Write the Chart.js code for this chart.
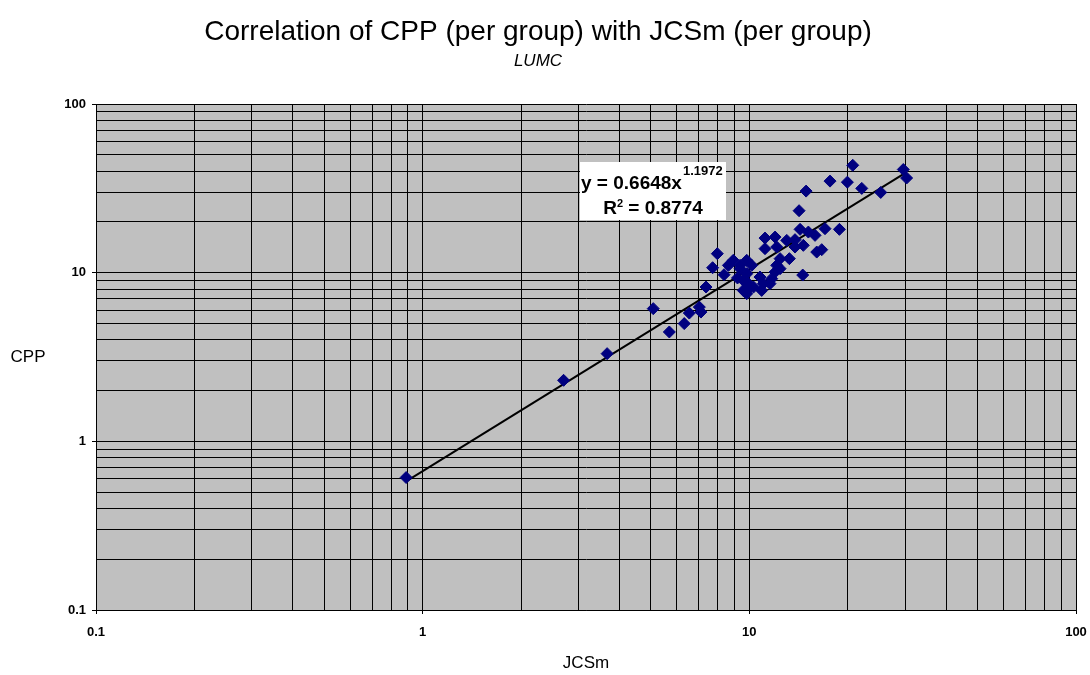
<!DOCTYPE html>
<html>
<head>
<meta charset="utf-8">
<script src="https://cdn.jsdelivr.net/npm/chart.js@4.4.1/dist/chart.umd.min.js"></script>
<style>
  html, body { margin: 0; padding: 0; background: #fff; }
  #wrap { width: 1090px; height: 675px; }
</style>
</head>
<body>
<div id="wrap"><canvas id="chart"></canvas></div>
<script>
// JCSm (x) y CPP (y) por grupo
const jcsm = [0.89, 2.70, 3.67, 5.08, 5.69, 6.32, 6.55, 7.03, 7.11, 7.37,
  7.72, 7.98, 8.37, 8.93, 8.63, 9.37, 9.82, 10.17, 9.58, 9.82,
  9.2, 9.82, 10.05, 9.58, 10.3, 10.78, 10.91, 11.04, 11.17, 11.17,
  11.99, 12.13, 12.42, 12.13, 11.99, 11.57, 13.02, 13.26, 13.8, 13.8,
  14.3, 14.63, 14.57, 14.2, 14.92, 15.16, 15.89, 16.08, 16.66, 17.05,
  17.66, 18.87, 19.96, 20.73, 22.09, 25.25, 29.6, 30.3, 12.42, 9.37,
  11.71, 9.82];
const cpp = [0.61, 2.30, 3.31, 6.12, 4.45, 4.99, 5.76, 6.25, 5.84, 8.22,
  10.7, 12.96, 9.73, 11.83, 11.05, 10.56, 11.83, 11.05, 9.00, 8.80,
  9.3, 7.51, 8.22, 7.85, 8.22, 9.42, 7.85, 8.61, 16.04, 13.88,
  16.26, 14.19, 12.11, 11.05, 10.08, 8.61, 15.54, 12.11, 14.19, 15.69,
  18.06, 14.52, 9.68, 23.3, 30.45, 17.41, 16.64, 13.25, 13.69, 18.23,
  34.9, 18.06, 34.4, 43.3, 31.6, 29.9, 40.9, 36.4, 10.56, 11.05,
  9.21, 9.86];

// Linea de tendencia (potencia) y su etiqueta
const trendA = 0.6648;
const trendB = 1.1972;
const trendR2 = "0.8774";

// Lineas de la grilla logaritmica y etiquetas de los ejes
const gridValues = [0.1, 0.2, 0.3, 0.4, 0.5, 0.6, 0.7, 0.8, 0.9,
  1, 2, 3, 4, 5, 6, 7, 8, 9,
  10, 20, 30, 40, 50, 60, 70, 80, 90, 100];
const tickLabels = { 0.1: "0.1", 1: "1", 10: "10", 100: "100" };

const fuente = 'Arial, "Liberation Sans", sans-serif';

const puntos = jcsm.map((x, i) => ({ x: x, y: cpp[i] }));
const xMin = Math.min(...jcsm);
const xMax = Math.max(...jcsm);
const tendencia = [
  { x: xMin, y: trendA * Math.pow(xMin, trendB) },
  { x: xMax, y: trendA * Math.pow(xMax, trendB) }
];

function esMayor(v) {
  return tickLabels[v] !== undefined;
}

function ejeLog(pos) {
  return {
    type: 'logarithmic',
    position: pos,
    min: 0.1,
    max: 100,
    afterBuildTicks: (scale) => {
      scale.ticks = gridValues.map(v => ({ value: v, major: esMayor(v) }));
    },
    afterFit: (scale) => {
      if (pos === 'left') scale.width = 96;
      else scale.height = 65;
      // el margen lo controla layout.padding
      scale.paddingLeft = 0;
      scale.paddingRight = 0;
      scale.paddingTop = 0;
      scale.paddingBottom = 0;
    },
    ticks: {
      autoSkip: false,
      maxRotation: 0,
      padding: pos === 'left' ? 6 : 11,
      color: '#000',
      font: { family: fuente, size: 13, weight: 'bold' },
      callback: (value) => tickLabels[value] || ''
    },
    grid: {
      color: '#000',
      lineWidth: 1,
      drawTicks: true,
      tickLength: 4,
      tickColor: (ctx) => (ctx.tick && esMayor(ctx.tick.value)) ? '#000' : 'rgba(0,0,0,0)'
    },
    border: { display: true, color: '#000', width: 1 },
    title: pos === 'left' ? { display: false } : {
      display: true,
      text: 'JCSm',
      color: '#000',
      font: { family: fuente, size: 17 },
      padding: { top: 0, bottom: 1 }
    }
  };
}

// Fondo gris del area de trazado, titulo del eje Y y etiqueta de la tendencia
const extras = {
  id: 'extras',
  beforeDraw(chart) {
    const { ctx, chartArea } = chart;
    ctx.save();
    ctx.fillStyle = '#fff';
    ctx.fillRect(0, 0, chart.width, chart.height);
    ctx.fillStyle = '#C0C0C0';
    ctx.fillRect(chartArea.left, chartArea.top, chartArea.right - chartArea.left, chartArea.bottom - chartArea.top);
    ctx.restore();
  },
  afterDraw(chart) {
    const { ctx, chartArea } = chart;
    ctx.save();
    ctx.fillStyle = '#000';
    ctx.font = '17px ' + fuente;
    ctx.textAlign = 'center';
    ctx.textBaseline = 'middle';
    ctx.fillText('CPP', 28, (chartArea.top + chartArea.bottom) / 2);

    // cuadro de la ecuacion
    ctx.fillStyle = '#fff';
    ctx.fillRect(580, 162, 146, 58);
    ctx.fillStyle = '#000';
    ctx.textAlign = 'left';
    ctx.textBaseline = 'alphabetic';
    ctx.font = 'bold 19px ' + fuente;
    const t1 = 'y = ' + trendA + 'x';
    ctx.fillText(t1, 581, 189);
    const w1 = ctx.measureText(t1).width;
    ctx.font = 'bold 13px ' + fuente;
    ctx.fillText(String(trendB), 581 + w1 + 1, 175);

    ctx.font = 'bold 19px ' + fuente;
    const wR = ctx.measureText('R').width;
    const t2 = ' = ' + trendR2;
    const w2 = ctx.measureText(t2).width;
    ctx.font = 'bold 11px ' + fuente;
    const wS = ctx.measureText('2').width;
    const x0 = 653 - (wR + wS + w2) / 2;
    ctx.font = 'bold 19px ' + fuente;
    ctx.fillText('R', x0, 214);
    ctx.fillText(t2, x0 + wR + wS, 214);
    ctx.font = 'bold 11px ' + fuente;
    ctx.fillText('2', x0 + wR, 207);
    ctx.restore();
  }
};

new Chart(document.getElementById('chart'), {
  type: 'scatter',
  data: {
    datasets: [
      {
        label: 'Tendencia',
        data: tendencia,
        showLine: true,
        borderColor: '#000',
        borderWidth: 2,
        pointRadius: 0,
        fill: false,
        order: 1
      },
      {
        label: 'CPP vs JCSm',
        data: puntos,
        pointStyle: 'rectRot',
        pointRadius: 6,
        backgroundColor: '#000080',
        borderColor: '#000080',
        borderWidth: 1,
        order: 0
      }
    ]
  },
  options: {
    responsive: true,
    maintainAspectRatio: false,
    animation: false,
    layout: { padding: { top: 0, right: 14, bottom: 0, left: 0 } },
    scales: {
      x: ejeLog('bottom'),
      y: ejeLog('left')
    },
    plugins: {
      legend: { display: false },
      tooltip: { enabled: false },
      title: {
        display: true,
        text: 'Correlation of CPP (per group) with JCSm (per group)',
        color: '#000',
        font: { family: fuente, size: 28, weight: 'normal' },
        padding: { top: 15, bottom: 0 }
      },
      subtitle: {
        display: true,
        text: 'LUMC',
        color: '#000',
        font: { family: fuente, size: 17, style: 'italic' },
        padding: { top: 2, bottom: 33 }
      }
    }
  },
  plugins: [extras]
});
</script>
</body>
</html>
